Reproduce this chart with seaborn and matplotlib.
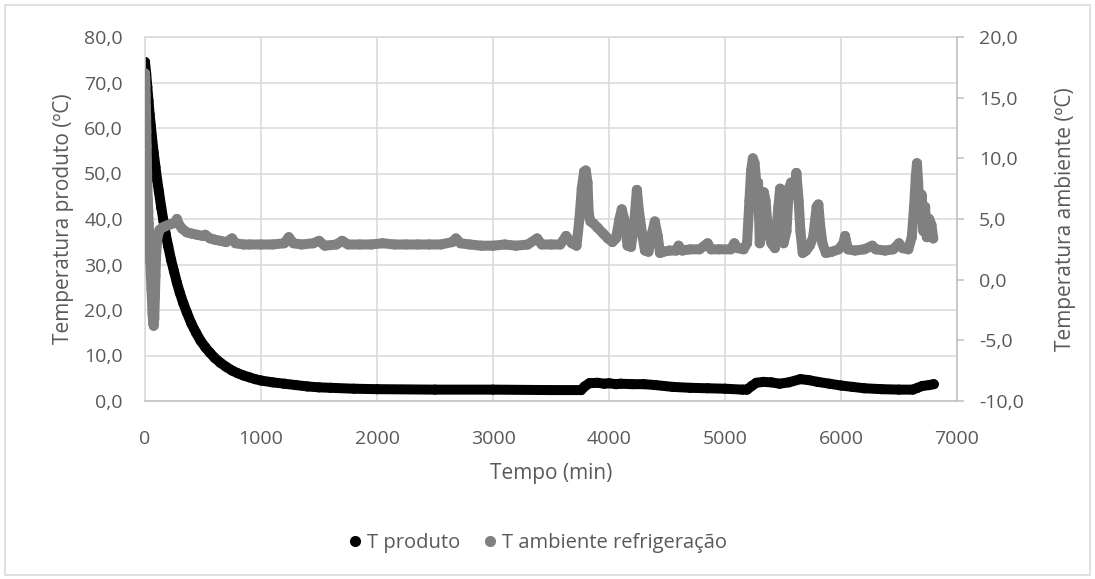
import matplotlib
matplotlib.use("Agg")
import matplotlib.pyplot as plt
from matplotlib.lines import Line2D
from matplotlib.patches import Rectangle
from matplotlib.ticker import FuncFormatter, MultipleLocator
import pandas as pd
import seaborn as sns

# Product temperature (left axis), time in minutes
tempo_produto = [0, 10, 20, 30, 40, 50, 60, 75, 90, 105, 120, 140, 160, 180, 200,
                 225, 250, 275, 300, 330, 360, 400, 440, 480, 520, 560, 600, 650,
                 700, 750, 800, 850, 900, 950, 1000, 1100, 1200, 1300, 1400, 1500,
                 1600, 1800, 2000, 2500, 3000, 3500, 3760, 3790, 3830, 3900, 3960,
                 4000, 4060, 4100, 4200, 4300, 4400, 4550, 4700, 4850, 5000, 5150,
                 5190, 5230, 5270, 5330, 5400, 5470, 5550, 5650, 5720, 5800, 5900,
                 6000, 6100, 6200, 6350, 6500, 6620, 6660, 6700, 6760, 6800]
t_produto = [74.5, 72.0, 69.0, 66.0, 63.0, 60.5, 58.0, 54.5, 51.5, 48.5, 46.0, 42.5,
             39.5, 36.5, 34.0, 31.0, 28.5, 26.0, 23.8, 21.5, 19.5, 17.0, 15.0, 13.2,
             11.8, 10.6, 9.5, 8.4, 7.5, 6.7, 6.1, 5.6, 5.2, 4.8, 4.5, 4.1, 3.8, 3.5,
             3.2, 3.0, 2.9, 2.7, 2.6, 2.5, 2.5, 2.4, 2.4, 3.2, 3.9, 4.0, 3.8, 3.9,
             3.7, 3.8, 3.7, 3.7, 3.5, 3.1, 2.9, 2.8, 2.7, 2.5, 2.5, 3.3, 4.0, 4.2,
             4.1, 3.8, 4.1, 4.8, 4.6, 4.2, 3.8, 3.4, 3.1, 2.8, 2.6, 2.5, 2.5, 2.9,
             3.3, 3.5, 3.7]

# Cold-room air temperature (right axis), time in minutes
tempo_ambiente = [0, 2, 4, 6, 8, 10, 12, 14, 16, 18, 20, 24, 28, 32, 36, 40, 45, 50,
                  55, 60, 65, 70, 75, 80, 85, 90, 95, 100, 110, 125, 150, 175, 200,
                  230, 260, 275, 290, 320, 360, 400, 450, 500, 520, 560, 600, 650,
                  700, 750, 780, 850, 900, 1000, 1100, 1200, 1240, 1280, 1350, 1450,
                  1500, 1550, 1650, 1700, 1750, 1850, 1950, 2050, 2150, 2250, 2350,
                  2450, 2550, 2650, 2680, 2720, 2800, 2900, 3000, 3100, 3200, 3300,
                  3380, 3420, 3500, 3580, 3630, 3680, 3720, 3745, 3765, 3785, 3800,
                  3815, 3825, 3840, 3870, 3900, 3950, 3990, 4030, 4060, 4090, 4110,
                  4130, 4160, 4190, 4220, 4240, 4260, 4290, 4310, 4340, 4370, 4395,
                  4420, 4440, 4470, 4520, 4580, 4600, 4630, 4700, 4780, 4850, 4880,
                  4950, 5050, 5080, 5110, 5160, 5190, 5210, 5225, 5240, 5255, 5270,
                  5285, 5300, 5320, 5335, 5350, 5370, 5400, 5430, 5460, 5475, 5490,
                  5505, 5530, 5550, 5570, 5600, 5615, 5635, 5650, 5670, 5700, 5730,
                  5760, 5790, 5805, 5820, 5840, 5870, 5920, 5980, 6020, 6035, 6060,
                  6120, 6200, 6270, 6300, 6380, 6450, 6500, 6530, 6580, 6610, 6630,
                  6645, 6655, 6665, 6680, 6695, 6710, 6725, 6740, 6760, 6780, 6795]
t_ambiente = [17.0, 16.6, 16.0, 15.2, 14.3, 13.3, 12.2, 11.0, 9.8, 8.7, 7.7, 6.6,
              5.6, 4.6, 3.6, 2.6, 1.5, 0.4, -0.7, -1.8, -2.8, -3.5, -3.8, -3.2, -1.5,
              0.3, 1.8, 2.8, 3.6, 4.1, 4.3, 4.4, 4.5, 4.6, 4.7, 5.0, 4.6, 4.2, 3.9,
              3.8, 3.7, 3.6, 3.7, 3.4, 3.3, 3.2, 3.1, 3.4, 3.0, 2.9, 2.9, 2.9, 2.9,
              3.0, 3.5, 3.0, 2.9, 3.0, 3.2, 2.8, 2.9, 3.2, 2.9, 2.9, 2.9, 3.0, 2.9,
              2.9, 2.9, 2.9, 2.9, 3.1, 3.4, 3.0, 2.9, 2.8, 2.8, 2.9, 2.8, 2.9, 3.4,
              2.9, 2.9, 2.9, 3.6, 3.0, 2.8, 5.0, 7.5, 8.9, 9.0, 8.0, 5.5, 4.8, 4.6,
              4.3, 3.8, 3.4, 3.1, 3.4, 5.0, 5.8, 5.0, 2.8, 2.7, 5.0, 7.4, 5.5, 3.5,
              2.4, 2.3, 3.8, 4.8, 3.6, 2.2, 2.3, 2.4, 2.4, 2.8, 2.4, 2.5, 2.5, 3.0,
              2.5, 2.5, 2.5, 3.0, 2.6, 2.5, 3.0, 6.5, 9.0, 10.0, 9.6, 8.0, 8.0, 3.0,
              6.5, 7.2, 6.5, 4.0, 3.0, 2.6, 6.0, 7.5, 6.0, 3.0, 4.0, 7.5, 8.0, 7.0,
              8.8, 6.5, 4.0, 2.2, 2.4, 2.8, 3.5, 6.0, 6.2, 4.5, 3.0, 2.2, 2.3, 2.5,
              3.0, 3.6, 2.5, 2.4, 2.5, 2.8, 2.5, 2.4, 2.5, 3.0, 2.6, 2.5, 3.5, 6.0,
              8.5, 9.6, 8.0, 5.0, 7.0, 4.0, 6.0, 3.5, 5.0, 4.5, 3.4]

label_produto = "T produto"
label_ambiente = "T ambiente refrigeração"

sns.set_theme(style="white")
plt.rcParams["font.family"] = ["Open Sans", "DejaVu Sans"]

TEXT = "#595959"
GRID = "#d9d9d9"
AXIS = "#bfbfbf"
BLACK = "#000000"
GRAY = "#808080"

W, H = 1095, 579
fig = plt.figure(figsize=(W / 100, H / 100), dpi=100)
ax = fig.add_axes([145 / W, 1 - 401 / H, (957 - 145) / W, (401 - 37) / H])
ax2 = ax.twinx()

prod = pd.DataFrame({"tempo": tempo_produto, "temp": t_produto})
amb = pd.DataFrame({"tempo": tempo_ambiente, "temp": t_ambiente})

LW = 7.2
MS = 52
line_kw = dict(estimator=None, sort=False, legend=False,
               solid_capstyle="round", solid_joinstyle="round")

sns.lineplot(data=prod, x="tempo", y="temp", ax=ax, color=BLACK, linewidth=LW, **line_kw)
sns.scatterplot(data=prod, x="tempo", y="temp", ax=ax, color=BLACK, s=MS,
                edgecolor="none", legend=False)
sns.lineplot(data=amb, x="tempo", y="temp", ax=ax2, color=GRAY, linewidth=LW, **line_kw)
sns.scatterplot(data=amb, x="tempo", y="temp", ax=ax2, color=GRAY, s=MS,
                edgecolor="none", legend=False)

ax.set_xlim(0, 7000)
ax.set_ylim(0, 80)
ax2.set_ylim(-10, 20)

fmt = FuncFormatter(lambda v, _: f"{v:.1f}".replace(".", ","))
ax.xaxis.set_major_locator(MultipleLocator(1000))
ax.yaxis.set_major_locator(MultipleLocator(10))
ax.yaxis.set_major_formatter(fmt)
ax2.yaxis.set_major_locator(MultipleLocator(5))
ax2.yaxis.set_major_formatter(fmt)

ax.grid(True, color=GRID, linewidth=1.1)
ax2.grid(False)
ax.set_axisbelow(True)

for side in ("left", "top"):
    ax.spines[side].set_color(GRID)
    ax.spines[side].set_linewidth(1.1)
ax.spines["right"].set_visible(False)
ax.spines["bottom"].set_color(AXIS)
ax.spines["bottom"].set_linewidth(1.1)
for side in ("left", "top", "bottom"):
    ax2.spines[side].set_visible(False)
ax2.spines["right"].set_color(AXIS)
ax2.spines["right"].set_linewidth(1.1)

ax.tick_params(axis="x", length=0, pad=21, labelsize=14, labelcolor=TEXT)
ax.tick_params(axis="y", length=0, pad=16, labelsize=14, labelcolor=TEXT)
ax2.tick_params(axis="y", length=5, width=1.1, color=AXIS, direction="out",
                pad=11, labelsize=14, labelcolor=TEXT)

ax.set_xlabel("Tempo (min)", fontsize=15, color=TEXT, labelpad=11)
ax.set_ylabel("Temperatura produto (ºC)", fontsize=15, color=TEXT, labelpad=7)
ax2.set_ylabel("Temperatura ambiente (ºC)", fontsize=15, color=TEXT, labelpad=22)

handles = [
    Line2D([], [], linestyle="none", marker="o", markersize=7,
           markerfacecolor=BLACK, markeredgecolor=BLACK, label=label_produto),
    Line2D([], [], linestyle="none", marker="o", markersize=7,
           markerfacecolor=GRAY, markeredgecolor=GRAY, label=label_ambiente),
]
fig.legend(handles=handles, loc="center", bbox_to_anchor=(538 / W, 1 - 543 / H),
           ncol=2, frameon=False, fontsize=14.5, labelcolor=TEXT,
           handlelength=0.6, handletextpad=0.3, columnspacing=1.2)

fig.patches.append(Rectangle((5 / W, 4 / H), (W - 10) / W, (H - 9) / H,
                             transform=fig.transFigure, fill=False,
                             edgecolor=GRID, linewidth=1.1))

fig.savefig("out.png", dpi=100)
